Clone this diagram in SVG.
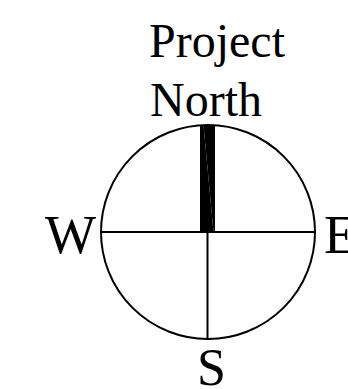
<svg xmlns="http://www.w3.org/2000/svg" width="348" height="389" viewBox="0 0 348 389">
<style>
.ln{fill:none;stroke:#000;stroke-width:2}
.t{font-family:"Liberation Serif","Times New Roman",serif;fill:#000}
</style>
<rect width="348" height="389" fill="#fff"/>
<g id="north-bar">
<polygon points="200,125 203.5,125 213.5,232 200,232" fill="#000"/>
<polygon points="203.5,125 215,125 215,232 213.5,232" fill="#000"/>
</g>
<g id="compass">
<circle class="ln" cx="208" cy="232" r="107"/>
<line class="ln" x1="101" y1="232" x2="315" y2="232"/>
<line class="ln" x1="207.5" y1="232" x2="207.5" y2="339"/>
</g>
<g id="label-project-north">
<text class="t" x="149" y="57" font-size="48">Project</text>
<text class="t" x="150" y="116" font-size="48">North</text>
</g>
<g id="label-w"><text class="t" x="45" y="253" font-size="54">W</text></g>
<g id="label-e"><text class="t" x="324" y="253" font-size="54">E</text></g>
<g id="label-s"><text class="t" x="197" y="385" font-size="52">S</text></g>
</svg>
